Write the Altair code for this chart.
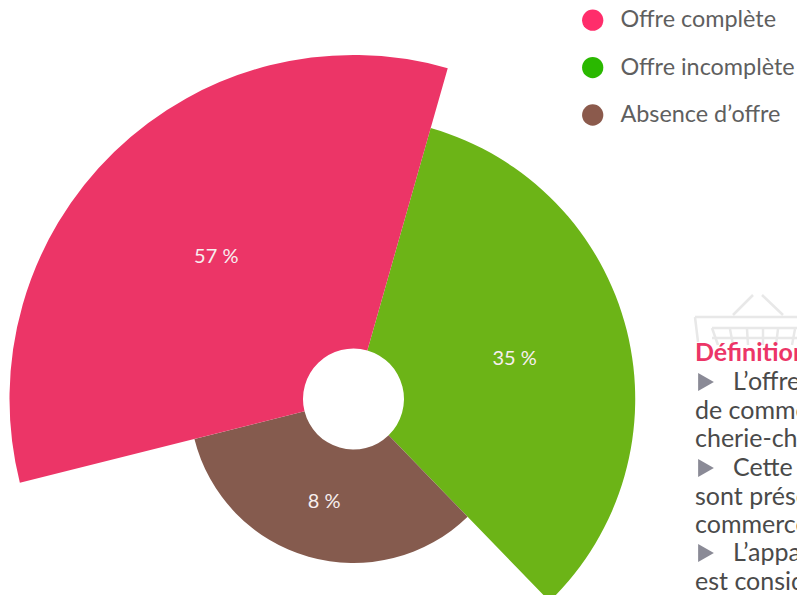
import altair as alt
import pandas as pd

categories = ["Offre incomplète", "Absence d’offre", "Offre complète"]
values = [35, 8, 57]
labels = ["35 %", "8 %", "57 %"]
spans = [1, 1, 1]
arc_colors = ["#6CB417", "#855B4E", "#EC3567"]
legend_order = ["Offre complète", "Offre incomplète", "Absence d’offre"]
legend_colors = ["#FF2D6B", "#2AB800", "#8B5A4C"]
side_title = "Définition"
side_lines = ["L’offre", "de commerce", "cherie-charcuterie", "Cette offre", "sont présentes",
              "commerce", "L’apparition", "est considérée"]

df = pd.DataFrame({"cat": categories, "value": values, "label": labels, "span": spans})

W, H = 789, 587
OX, OY = 8, 8
CX, CY = 353.5 - OX, 399 - OY
R_HOLE, R_MIN, R1 = 50.5, 56.2, 344
START = 0.2775
TAU = 6.283185307

theta_scale = alt.Scale(domain=[0, 3], range=[START, START + TAU])
base = alt.Chart(df).transform_window(cum="sum(span)").transform_calculate(
    start="datum.cum - datum.span", mid="datum.cum - datum.span / 2")

arcs = base.mark_arc(clip=True, radius2=R_HOLE).encode(
    theta=alt.Theta("start:Q", stack=None, scale=theta_scale),
    theta2="cum:Q",
    radius=alt.Radius("value:Q", scale=alt.Scale(type="sqrt", domain=[0, 57], range=[R_MIN, R1])),
    fill=alt.Fill("cat:N", scale=alt.Scale(domain=categories, range=arc_colors), legend=None),
    x=alt.value(CX), y=alt.value(CY),
)
texts = base.mark_text(color="#F7EFEF", fontSize=20, font="Lato").encode(
    theta=alt.Theta("mid:Q", stack=None, scale=theta_scale),
    radius=alt.Radius("value:Q", scale=alt.Scale(type="sqrt", domain=[0, 57],
                                                 range=[(R_HOLE + R_MIN) / 2, (R_HOLE + R1) / 2])),
    text="label:N",
    x=alt.value(CX), y=alt.value(CY),
)
legend_layer = alt.Chart(df).mark_point(filled=True, size=0).encode(
    x=alt.value(0), y=alt.value(0),
    color=alt.Color("cat:N", sort=legend_order,
        scale=alt.Scale(domain=legend_order, range=legend_colors),
        legend=alt.Legend(title=None, orient="none", legendX=581 - OX, legendY=8.5 - OY,
            symbolType="circle", symbolSize=452, symbolOpacity=1, symbolStrokeWidth=0,
            labelFont="Lato", labelFontSize=23.4, labelColor="#5F5F5F", labelOffset=16,
            rowPadding=22.4, labelLimit=400)),
)

one = alt.Chart(pd.DataFrame({"a": [0]}))

def seg(x1, y1, x2, y2):
    return one.mark_rule(color="#E8E8E8", strokeWidth=2.5, clip=True).encode(
        x=alt.value(x1 - OX), y=alt.value(y1 - OY), x2=alt.value(x2 - OX), y2=alt.value(y2 - OY))

basket = [
    seg(753, 295, 733, 315), seg(762, 295, 783, 315),
    seg(695, 317, 805, 317), seg(695, 317, 698, 342),
    seg(712, 328, 805, 328), seg(712, 328, 718, 345),
    seg(712, 338, 805, 338),
    seg(730, 329, 733, 345), seg(747, 329, 748, 345), seg(763, 329, 763, 345),
    seg(778, 329, 776, 345), seg(795, 329, 792, 345),
]

def line(t, x, y, **kw):
    style = dict(font="Lato", fontSize=25, color="#4A4A4A", align="left", baseline="middle", clip=True)
    style.update(kw)
    return one.mark_text(**style).encode(x=alt.value(x - OX), y=alt.value(y - OY), text=alt.value(t))

title_layer = line(side_title, 695, 353, fontWeight="bold", color="#EC3567")
ys = [382, 411, 439, 468, 497, 525, 553, 582]
xs = [733, 695, 695, 733, 695, 695, 733, 695]
body = [line(t, x, y) for t, x, y in zip(side_lines, xs, ys)]
tris = [one.mark_point(shape="triangle-right", size=330, filled=True, opacity=1, color="#8A8A96").encode(
            x=alt.value(706 - OX), y=alt.value(y - OY)) for y in (382, 468, 553)]

layers = [arcs, texts, legend_layer] + basket + [title_layer] + body + tris
chart = alt.layer(*layers).resolve_scale(radius="independent", color="independent", theta="shared").properties(
    width=W, height=H, padding=0, autosize=alt.AutoSizeParams(type="none"),
).configure_view(stroke=None)
chart.save("out.html", embed_options={"renderer": "svg", "actions": False})
